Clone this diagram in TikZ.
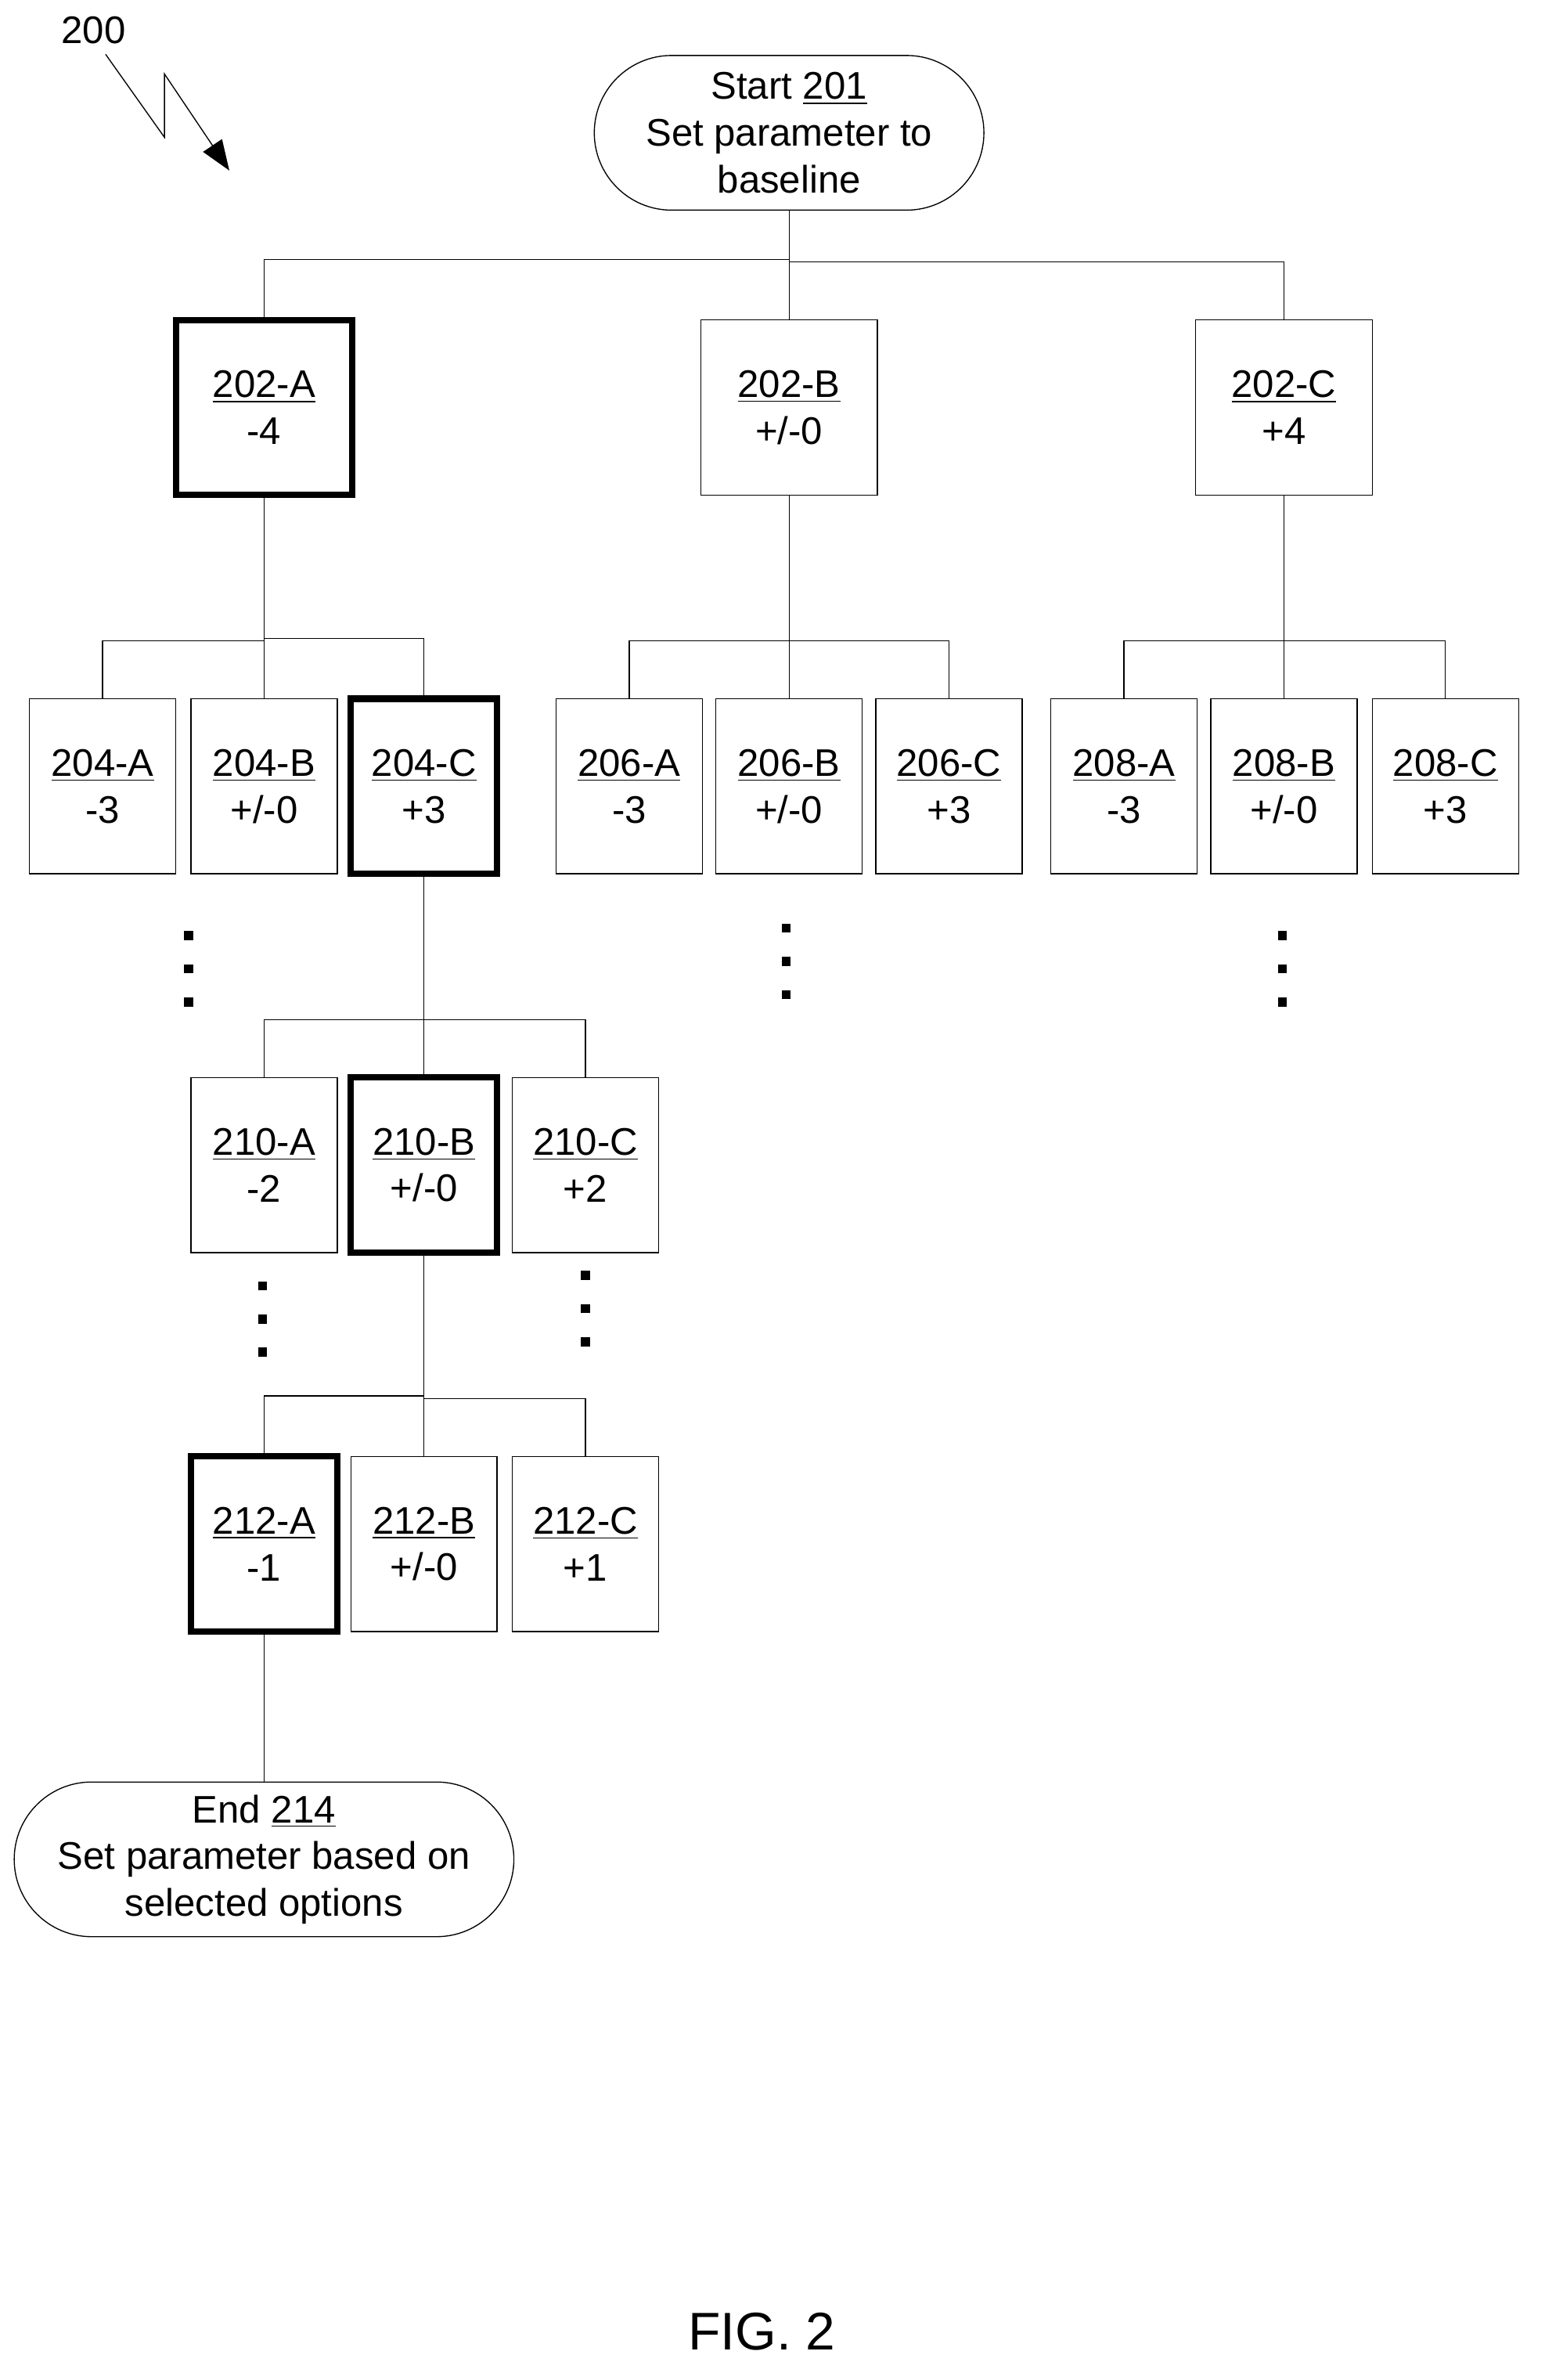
\documentclass[tikz,border=0pt]{standalone}
\usepackage{fontspec}
\setmainfont{Liberation Sans}
\usetikzlibrary{arrows.meta,positioning,calc,shapes.misc}
\tikzset{
    box/.style={draw,thin,minimum width=1.94cm,minimum height=2.32cm,align=center,inner sep=0pt},
    wide box/.style={box,minimum width=2.34cm},
    chosen/.style={line width=2.4pt},
    terminal/.style={draw,thin,rounded rectangle,minimum width=5.4cm,minimum height=2.05cm,align=center},
    wire/.style={thin},
}
\tikzstyle{every node}=[font=\fontsize{14.5}{17.6}\selectfont]
\newcommand{\opt}[2]{\underline{#1}\\#2}

\begin{document}
\begin{tikzpicture}[x=0.02cm,y=-0.02cm]
    \useasboundingbox (0,0) rectangle (1024,1577);
    % label and zigzag
    \node (lbl) at (62,20) {200};
    \draw[-{Triangle[length=4mm,width=3mm]}] (70,36) -- (109,91) -- (109,49) -- (152,113);

    \node[terminal] (start) at (523,88) {Start \underline{201}\\Set parameter to\\baseline};

    % first level
    \node[wide box,chosen] (a202) at (175,270) {\opt{202-A}{-4}};
    \node[wide box] (b202) at (523,270) {\opt{202-B}{+/-0}};
    \node[wide box] (c202) at (851,270) {\opt{202-C}{+4}};
    \draw[wire] (a202.north) -- ++(0,-38) -| (start.south);
    \draw[wire] (c202.north) -- ++(0,-38) -| (start.south);
    \draw[wire] (b202.north) -- (start.south);

    % second level
    \node[box] (a204) at (68,521) {\opt{204-A}{-3}};
    \node[box] (b204) at (175,521) {\opt{204-B}{+/-0}};
    \node[box,chosen] (c204) at (281,521) {\opt{204-C}{+3}};
    \node[box] (a206) at (417,521) {\opt{206-A}{-3}};
    \node[box] (b206) at (523,521) {\opt{206-B}{+/-0}};
    \node[box] (c206) at (629,521) {\opt{206-C}{+3}};
    \node[box] (a208) at (745,521) {\opt{208-A}{-3}};
    \node[box] (b208) at (851,521) {\opt{208-B}{+/-0}};
    \node[box] (c208) at (958,521) {\opt{208-C}{+3}};
    \draw[wire] (a204.north) -- ++(0,-38) -| (a202.south);
    \draw[wire] (c204.north) -- ++(0,-38) -| (a202.south);
    \draw[wire] (b204.north) -- (a202.south);
    \draw[wire] (a206.north) -- ++(0,-38) -| (b202.south);
    \draw[wire] (c206.north) -- ++(0,-38) -| (b202.south);
    \draw[wire] (b206.north) -- (b202.south);
    \draw[wire] (a208.north) -- ++(0,-38) -| (c202.south);
    \draw[wire] (c208.north) -- ++(0,-38) -| (c202.south);
    \draw[wire] (b208.north) -- (c202.south);

    % third level
    \node[box] (a210) at (175,772) {\opt{210-A}{-2}};
    \node[box,chosen] (b210) at (281,772) {\opt{210-B}{+/-0}};
    \node[box] (c210) at (388,772) {\opt{210-C}{+2}};
    \draw[wire] (a210.north) -- ++(0,-38) -| (c204.south);
    \draw[wire] (c210.north) -- ++(0,-38) -| (c204.south);
    \draw[wire] (b210.north) -- (c204.south);

    % fourth level
    \node[box,chosen] (a212) at (175,1023) {\opt{212-A}{-1}};
    \node[box] (b212) at (281,1023) {\opt{212-B}{+/-0}};
    \node[box] (c212) at (388,1023) {\opt{212-C}{+1}};
    \draw[wire] (a212.north) -- ++(0,-38) -| (b210.south);
    \draw[wire] (c212.north) -- ++(0,-38) -| (b210.south);
    \draw[wire] (b212.north) -- (b210.south);

    \node[terminal,minimum width=6.56cm] (end) at (175,1232) {End \underline{214}\\Set parameter based on\\selected options};
    \draw[wire] (a212.south) -- (end.north);

    % ellipsis dots
    \foreach \x/\y in {125/620, 521/615, 850/620, 174/852, 388/845}
        \foreach \k in {0,1,2}
            \fill (\x-3,\y+\k*22-3) rectangle (\x+3,\y+\k*22+3);

    \node[font=\fontsize{20}{24}\selectfont] (fig) at (505,1545) {FIG. 2};
\end{tikzpicture}
\end{document}
